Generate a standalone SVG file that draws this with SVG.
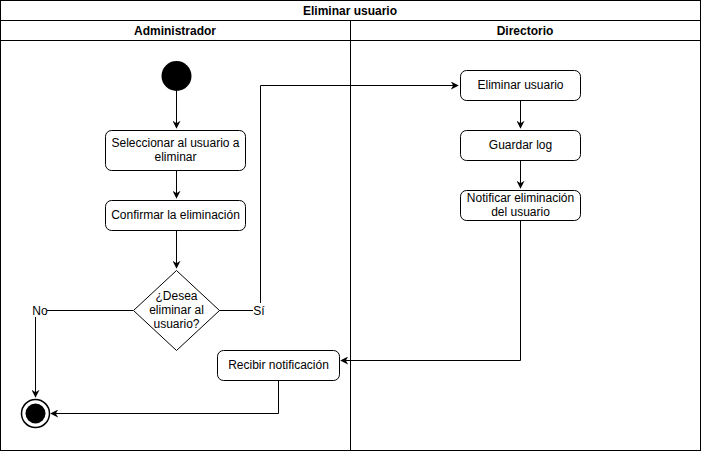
<svg xmlns="http://www.w3.org/2000/svg" width="701" height="451" viewBox="0 0 701 451">
<defs>
<style>
text{font-family:"Liberation Sans",Arial,sans-serif;font-size:12px;fill:#000;text-anchor:middle}
.b{font-weight:bold}
.n{fill:#fff;stroke:#000;stroke-width:1}
.e{fill:none;stroke:#000;stroke-width:1}
.lbl{fill:#fff;stroke:none}
</style>
<marker id="a" viewBox="0 0 10 10" refX="9" refY="5" markerWidth="8" markerHeight="8" orient="auto" markerUnits="userSpaceOnUse">
<path d="M0,0 L10,5 L0,10 L3,5 Z" fill="#000"/>
</marker>
</defs>
<rect width="701" height="451" fill="#fff"/>
<g id="pool">
<rect class="n" x="0.5" y="0.5" width="700" height="450"/>
<line class="e" x1="0.5" y1="20.5" x2="700.5" y2="20.5"/>
<line class="e" x1="0.5" y1="40.5" x2="700.5" y2="40.5"/>
<line class="e" x1="350.5" y1="20.5" x2="350.5" y2="450.5"/>
<text class="b" x="350" y="15">Eliminar usuario</text>
<text class="b" x="175" y="35">Administrador</text>
<text class="b" x="525" y="35">Directorio</text>
</g>
<g id="connectors">
<path class="e" d="M176.5,91 V128" marker-end="url(#a)"/>
<path class="e" d="M176.5,170 V198" marker-end="url(#a)"/>
<path class="e" d="M176.5,230 V268" marker-end="url(#a)"/>
<path class="e" d="M133,310.5 H35.5 V397" marker-end="url(#a)"/>
<path class="e" d="M219,310.5 H260.5 V85.5 H458" marker-end="url(#a)"/>
<path class="e" d="M520.5,100 V128" marker-end="url(#a)"/>
<path class="e" d="M520.5,160 V188" marker-end="url(#a)"/>
<path class="e" d="M520.5,220 V360.5 H341" marker-end="url(#a)"/>
<path class="e" d="M278.5,380 V413.5 H51" marker-end="url(#a)"/>
<rect class="lbl" x="31" y="303" width="16" height="14"/>
<text x="40" y="315">No</text>
<rect class="lbl" x="253" y="303" width="13" height="14"/>
<text x="259" y="315">Sí</text>
</g>
<g id="start"><circle cx="176.5" cy="76" r="15" fill="#000"/></g>
<g id="seleccionar">
<rect class="n" x="105.5" y="130.5" width="140" height="40" rx="6"/>
<text x="175.5" y="147">Seleccionar al usuario a</text>
<text x="175.5" y="161">eliminar</text>
</g>
<g id="confirmar">
<rect class="n" x="105.5" y="200.5" width="140" height="30" rx="6"/>
<text x="175.5" y="219">Confirmar la eliminación</text>
</g>
<g id="decision">
<path class="n" d="M176.5,270.5 L219.5,310.5 L176.5,350.5 L133.5,310.5 Z"/>
<text x="176.5" y="300">¿Desea</text>
<text x="176.5" y="314">eliminar al</text>
<text x="176.5" y="328">usuario?</text>
</g>
<g id="eliminar">
<rect class="n" x="460.5" y="70.5" width="120" height="30" rx="6"/>
<text x="520.5" y="89">Eliminar usuario</text>
</g>
<g id="guardar">
<rect class="n" x="460.5" y="130.5" width="120" height="30" rx="6"/>
<text x="520.5" y="149">Guardar log</text>
</g>
<g id="notificar">
<rect class="n" x="460.5" y="190.5" width="120" height="30" rx="6"/>
<text x="520.5" y="202">Notificar eliminación</text>
<text x="520.5" y="216">del usuario</text>
</g>
<g id="recibir">
<rect class="n" x="217.5" y="350.5" width="122" height="30" rx="6"/>
<text x="278.5" y="369">Recibir notificación</text>
</g>
<g id="end">
<circle cx="35.5" cy="413.5" r="14" fill="#fff" stroke="#000" stroke-width="1.5"/>
<circle cx="35.5" cy="413.5" r="10" fill="#000"/>
</g>
</svg>
